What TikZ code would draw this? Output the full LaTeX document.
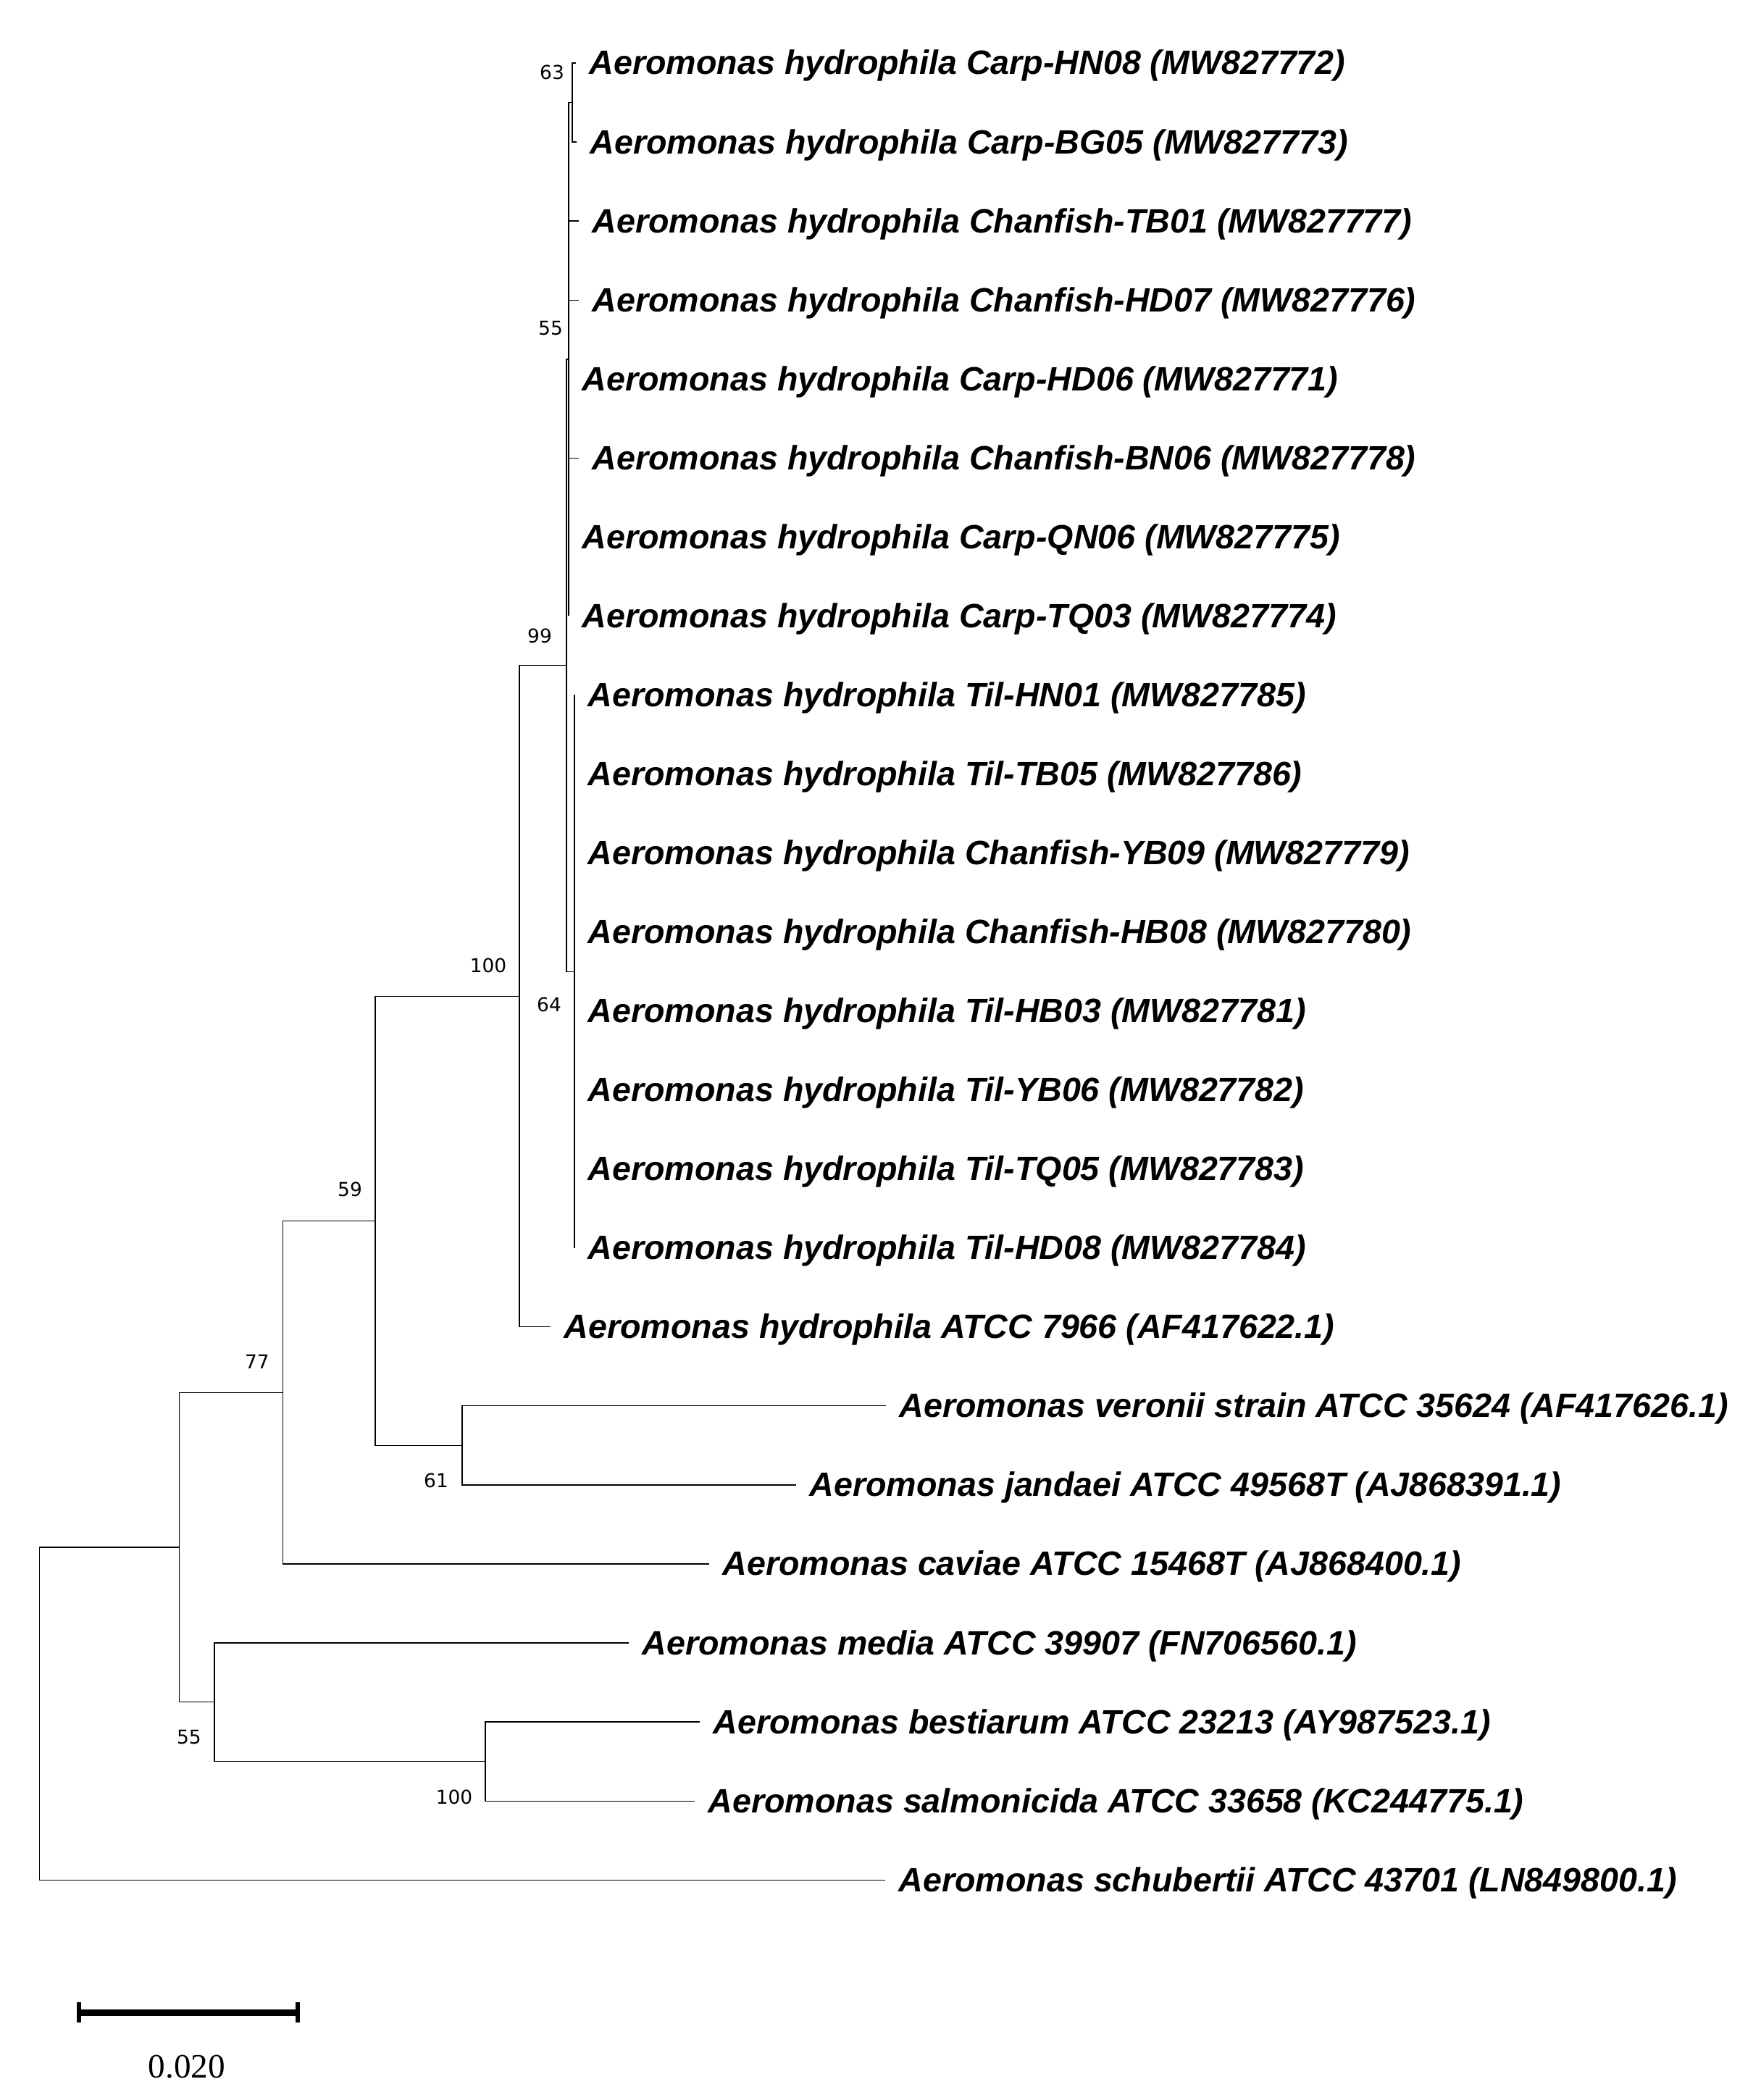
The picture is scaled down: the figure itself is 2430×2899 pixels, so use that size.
\documentclass[tikz,border=0pt]{standalone}
\usepackage{fontspec}
\newfontfamily\tipfont{Liberation Sans}
\newfontfamily\bsfont{DejaVu Sans}
\newfontfamily\scfont{Liberation Serif}
\begin{document}
\begin{tikzpicture}[x=0.25pt,y=-0.25pt,
  br/.style={line width=0.3pt},
  tiplab/.style={anchor=base west,inner sep=0pt,xshift=4.5pt,yshift=-4pt,
    font=\tipfont\bfseries\itshape\fontsize{11.65}{14}\selectfont},
  bs/.style={anchor=center,inner sep=0pt,font=\bsfont\fontsize{6.6}{8}\selectfont},
  sbar/.style={line width=2.25pt}]
\useasboundingbox (0,0) rectangle (2430,2899);
% internal nodes
\coordinate (n63) at (790,141.5);
\coordinate (n55) at (785,496);
\coordinate (n64) at (793,1341.1);
\coordinate (n99) at (782,918.5);
\coordinate (n100a) at (717,1375.2);
\coordinate (n61) at (638,1995.4);
\coordinate (n59) at (518,1685.3);
\coordinate (n77) at (390.5,1922.1);
\coordinate (n100b) at (670,2431.6);
\coordinate (nb55) at (296,2349.8);
\coordinate (nX) at (247.5,2136);
\coordinate (root) at (54.5,2365.6);
% tips
\foreach \i/\x/\y/\t in {
 0/795/87/Aeromonas hydrophila Carp-HN08 (MW827772),
 1/796/196.05/Aeromonas hydrophila Carp-BG05 (MW827773),
 2/799/305.1/Aeromonas hydrophila Chanfish-TB01 (MW827777),
 3/799/414.15/Aeromonas hydrophila Chanfish-HD07 (MW827776),
 4/785/523.2/Aeromonas hydrophila Carp-HD06 (MW827771),
 5/799/632.25/Aeromonas hydrophila Chanfish-BN06 (MW827778),
 6/785/741.3/Aeromonas hydrophila Carp-QN06 (MW827775),
 7/785/850.35/Aeromonas hydrophila Carp-TQ03 (MW827774),
 8/793/959.4/Aeromonas hydrophila Til-HN01 (MW827785),
 9/793/1068.45/Aeromonas hydrophila Til-TB05 (MW827786),
 10/793/1177.5/Aeromonas hydrophila Chanfish-YB09 (MW827779),
 11/793/1286.55/Aeromonas hydrophila Chanfish-HB08 (MW827780),
 12/793/1395.6/Aeromonas hydrophila Til-HB03 (MW827781),
 13/793/1504.65/Aeromonas hydrophila Til-YB06 (MW827782),
 14/793/1613.7/Aeromonas hydrophila Til-TQ05 (MW827783),
 15/793/1722.75/Aeromonas hydrophila Til-HD08 (MW827784),
 16/760/1831.8/Aeromonas hydrophila ATCC 7966 (AF417622.1),
 17/1223/1940.85/Aeromonas veronii strain ATCC 35624 (AF417626.1),
 18/1099/2049.9/Aeromonas jandaei ATCC 49568T (AJ868391.1),
 19/979/2158.95/Aeromonas caviae ATCC 15468T (AJ868400.1),
 20/868/2268/Aeromonas media ATCC 39907 (FN706560.1),
 21/966/2377.05/Aeromonas bestiarum ATCC 23213 (AY987523.1),
 22/959/2486.1/Aeromonas salmonicida ATCC 33658 (KC244775.1),
 23/1222/2595.15/Aeromonas schubertii ATCC 43701 (LN849800.1)}{
  \coordinate (t\i) at (\x,\y);
  \node[tiplab] (l\i) at (t\i) {\t};
}
% branches
\draw[br] (n63) |- (t0);
\draw[br] (n63) |- (t1);
\draw[br] (n55) |- (n63);
\foreach \k in {2,3,4,5,6,7} {\draw[br] (n55) |- (t\k);}
\foreach \k in {8,...,15} {\draw[br] (n64) |- (t\k);}
\draw[br] (n99) |- (n55);
\draw[br] (n99) |- (n64);
\draw[br] (n100a) |- (n99);
\draw[br] (n100a) |- (t16);
\draw[br] (n61) |- (t17);
\draw[br] (n61) |- (t18);
\draw[br] (n59) |- (n100a);
\draw[br] (n59) |- (n61);
\draw[br] (n77) |- (n59);
\draw[br] (n77) |- (t19);
\draw[br] (n100b) |- (t21);
\draw[br] (n100b) |- (t22);
\draw[br] (nb55) |- (t20);
\draw[br] (nb55) |- (n100b);
\draw[br] (nX) |- (n77);
\draw[br] (nX) |- (nb55);
\draw[br] (root) |- (nX);
\draw[br] (root) |- (t23);
% bootstrap values
\node[bs] (b63) at (762,100) {63};
\node[bs] (b55a) at (760,453) {55};
\node[bs] (b99) at (745,878) {99};
\node[bs] (b64) at (758,1387) {64};
\node[bs] (b100a) at (674,1333) {100};
\node[bs] (b59) at (483,1642) {59};
\node[bs] (b77) at (355,1880) {77};
\node[bs] (b61) at (602,2044) {61};
\node[bs] (b55b) at (261,2398) {55};
\node[bs] (b100b) at (627,2481) {100};
% scale bar
\coordinate (s1) at (109,2778);
\coordinate (s2) at (411,2778);
\draw[sbar] (s1) -- (s2);
\draw[line width=1.5pt] ([yshift=3.5pt]s1) -- ([yshift=-3.5pt]s1);
\draw[line width=1.5pt] ([yshift=3.5pt]s2) -- ([yshift=-3.5pt]s2);
\node[inner sep=0pt,font=\scfont\fontsize{11.8}{13}\selectfont] (sl) at (258,2853) {0.020};
\end{tikzpicture}
\end{document}
